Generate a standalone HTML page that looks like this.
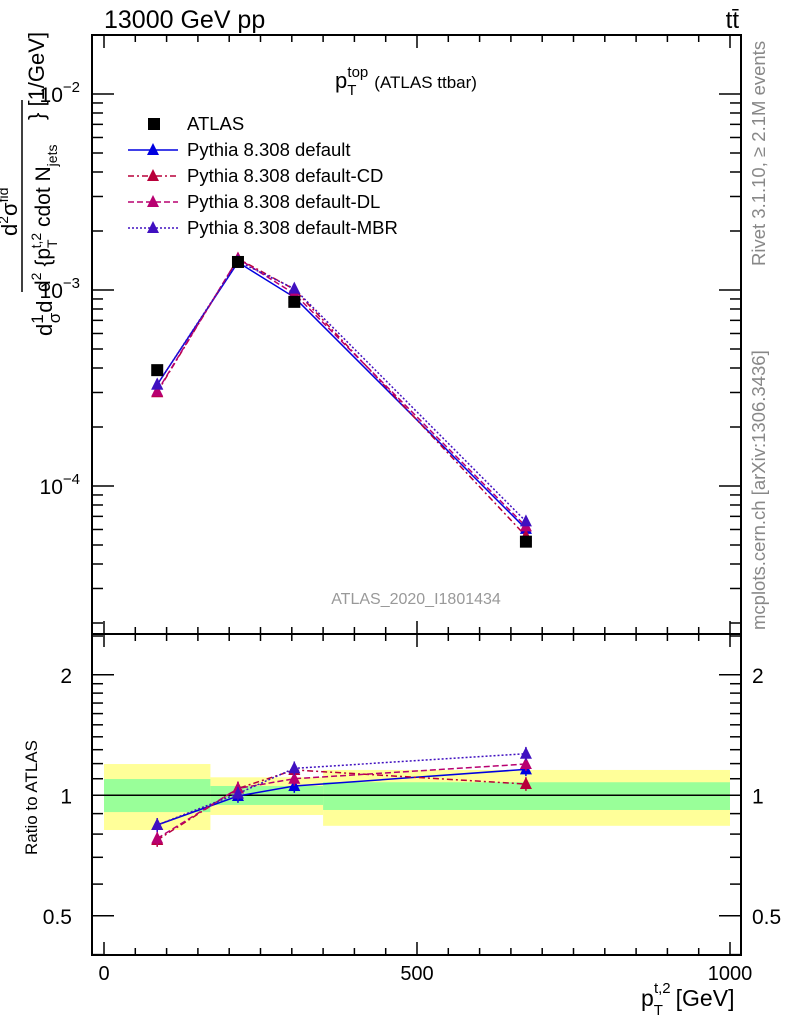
<!DOCTYPE html>
<html><head><meta charset="utf-8"><style>
body{margin:0;background:#fff}
svg{display:block;font-family:"Liberation Sans",sans-serif}
</style></head><body>
<svg id="c" width="786" height="1024" viewBox="0 0 786 1024" xmlns="http://www.w3.org/2000/svg">
<g id="bands"></g><g id="lines"></g><g id="axes"></g>
<text x="104" y="28" font-size="25">13000 GeV pp</text>
<text x="739" y="28" font-size="24" text-anchor="end">tt̄</text>
<text x="335" y="88" font-size="22">p<tspan font-size="15" dy="7">T</tspan><tspan font-size="15" dx="-9" dy="-18">top</tspan><tspan font-size="17" dy="11" dx="6">(ATLAS ttbar)</tspan></text>
<text x="416" y="604" font-size="16" fill="#999" text-anchor="middle">ATLAS_2020_I1801434</text>
<text transform="translate(765,266) rotate(-90)" font-size="18.5" fill="#888">Rivet 3.1.10, ≥ 2.1M events</text>
<text transform="translate(765,630) rotate(-90)" font-size="18.5" fill="#888">mcplots.cern.ch [arXiv:1306.3436]</text>
<g font-size="22">
<text transform="translate(52,336) rotate(-90)">d<tspan font-size="17" dy="-9">1</tspan><tspan font-size="17" dy="17" dx="-9">σ</tspan><tspan dy="-8">d</tspan></text>
<text transform="translate(17,236) rotate(-90)">d<tspan font-size="14" dy="-9">2</tspan><tspan dy="9">σ</tspan><tspan font-size="14" dy="-9">fid</tspan></text>
<line x1="22" y1="292" x2="22" y2="100" stroke="#000" stroke-width="1.5"/>
<text transform="translate(50,292) rotate(-90)" font-size="21">d<tspan font-size="14" dy="-9">2</tspan><tspan dy="9"> {p</tspan><tspan font-size="14" dy="7">T</tspan><tspan font-size="14" dy="-16" dx="-9">t,2</tspan><tspan dy="9"> cdot N</tspan><tspan font-size="14" dy="7">jets</tspan></text>
<text transform="translate(44,120) rotate(-90)">} [1/GeV]</text>
</g>
<text transform="translate(37,855) rotate(-90)" font-size="17">Ratio to ATLAS</text>
<text x="641" y="1006" font-size="23">p<tspan font-size="15" dy="9">T</tspan><tspan font-size="15" dx="-9" dy="-22">t,2</tspan><tspan dy="13" dx="5">[GeV]</tspan></text>
<g id="legend"></g>
</svg>
<script>
const xCenters=[85,214,304,674];
const atlas=[3.9e-4,1.39e-3,8.7e-4,5.2e-5];
const mcDefault=[3.29e-4,1.385e-3,9.18e-4,6.04e-5];
const mcCD=[3.01e-4,1.446e-3,1.007e-3,5.55e-5];
const mcDL=[3.04e-4,1.446e-3,9.57e-4,6.22e-5];
const mcMBR=[3.29e-4,1.40e-3,1.016e-3,6.6e-5];
const rDefault=[0.843,0.996,1.055,1.161];
const rCD=[0.773,1.04,1.157,1.067];
const rDL=[0.78,1.04,1.10,1.197];
const rMBR=[0.843,1.01,1.168,1.27];
const binEdges=[0,170,350,1000];
const yellowHi=[1.197,1.109,1.157];
const yellowLo=[0.819,0.893,0.839];
const greenHi=[1.098,1.055,1.078];
const greenLo=[0.908,0.946,0.919];
const xTicks=[0,500,1000];
const ratioTicks=[0.5,1,2];
const NS="http://www.w3.org/2000/svg";
const L=92,R=741,T=35,M=634,B=955;
const X=v=>104+v*0.626;
const Y=v=>94-(Math.log10(v)+2)*196;
const RY=v=>795.3-Math.log2(v)*120.5;
function mk(p,tag,attrs){const e=document.createElementNS(NS,tag);for(const k in attrs)e.setAttribute(k,attrs[k]);document.getElementById(p).appendChild(e);return e;}
for(let i=0;i<3;i++){
 let e=mk('bands','rect',{x:X(binEdges[i]),y:RY(yellowHi[i]),width:X(binEdges[i+1])-X(binEdges[i]),height:RY(yellowLo[i])-RY(yellowHi[i]),fill:'#ffff99'});
 
 
 let g=mk('bands','rect',{x:X(binEdges[i]),y:RY(greenHi[i]),width:X(binEdges[i+1])-X(binEdges[i]),height:RY(greenLo[i])-RY(greenHi[i]),fill:'#99ff99'});
 
 
}
let f1=mk('axes','rect',{x:L,y:T,width:R-L,height:M-T,fill:'none',stroke:'#000','stroke-width':2});


let f2=mk('axes','rect',{x:L,y:M,width:R-L,height:B-M,fill:'none',stroke:'#000','stroke-width':2});


let one=mk('lines','line',{x1:L,x2:R,y1:RY(1),y2:RY(1),stroke:'#000','stroke-width':1.5});


function tick(x1,y1,x2,y2){mk('axes','line',{x1,y1,x2,y2,stroke:'#000','stroke-width':1.5});}
for(let v=0;v<=1000;v+=50){const x=X(v),maj=v%500==0,l=maj?13:7;
 tick(x,T,x,T+l);tick(x,M,x,M-l);tick(x,M,x,M+l);tick(x,B,x,B-l);}
xTicks.forEach(v=>{let t=mk('axes','text',{x:X(v),y:980,'font-size':20,'text-anchor':'middle'});t.textContent=v;
 
 });
for(let d=-5;d<=-2;d++)for(let m=1;m<10;m++){const v=m*Math.pow(10,d),y=Y(v);if(y<T||y>M)continue;const l=m==1?22:11;tick(L,y,L+l,y);tick(R,y,R-l,y);}
[-2,-3,-4].forEach(d=>{let t=mk('axes','text',{x:80,y:Y(Math.pow(10,d))+8,'font-size':21,'text-anchor':'end'});t.innerHTML='10<tspan font-size="15" dy="-10">−'+(-d)+'</tspan>';
 
 });
[0.4,0.5,0.6,0.7,0.8,0.9,1,1.1,1.2,1.3,1.4,1.5,1.6,1.7,1.8,1.9,2,2.5].forEach(v=>{const y=RY(v);if(y<M||y>B)return;const l=(v==0.5||v==1||v==2)?22:11;tick(L,y,L+l,y);tick(R,y,R-l,y);});
ratioTicks.forEach(v=>{[[72,'end'],[752,'start']].forEach(([x,a])=>{let t=mk('axes','text',{x,y:RY(v)+8,'font-size':21,'text-anchor':a});t.textContent=v;
 
 });});
const series=[
 {n:'default',main:mcDefault,r:rDefault,c:'#0000e0',d:''},
 {n:'default-cd',main:mcCD,r:rCD,c:'#b8003a',d:'6,3,2,3'},
 {n:'default-dl',main:mcDL,r:rDL,c:'#b80070',d:'6,3'},
 {n:'default-mbr',main:mcMBR,r:rMBR,c:'#4010c0',d:'2,2'}];
function tri(x,y,c,name){let p=mk('lines','polygon',{points:`${x},${y-7} ${x-6},${y+5} ${x+6},${y+5}`,fill:c});
 
 }
series.forEach(s=>{
 let pl=mk('lines','polyline',{points:xCenters.map((x,i)=>X(x)+','+Y(s.main[i])).join(' '),fill:'none',stroke:s.c,'stroke-width':1.5,'stroke-dasharray':s.d});
 
 
 let rl=mk('lines','polyline',{points:xCenters.map((x,i)=>X(x)+','+RY(s.r[i])).join(' '),fill:'none',stroke:s.c,'stroke-width':1.5,'stroke-dasharray':s.d});
 
 
 xCenters.forEach((x,i)=>{tri(X(x),Y(s.main[i]),s.c,'marker-'+s.n);
  mk('lines','line',{x1:X(x),x2:X(x),y1:RY(s.r[i]*1.04),y2:RY(s.r[i]/1.04),stroke:s.c,'stroke-width':1.5});
  tri(X(x),RY(s.r[i]),s.c,'ratio-marker-'+s.n);});
});
xCenters.forEach((x,i)=>{let r=mk('lines','rect',{x:X(x)-6,y:Y(atlas[i])-6,width:12,height:12,fill:'#000'});
 
 });
const labels=['ATLAS','Pythia 8.308 default','Pythia 8.308 default-CD','Pythia 8.308 default-DL','Pythia 8.308 default-MBR'];
labels.forEach((lab,i)=>{const y=124+i*26;
 if(i==0){mk('legend','rect',{x:148,y:y-6,width:12,height:12,fill:'#000'});}
 else{const s=series[i-1];mk('legend','line',{x1:128,x2:178,y1:y,y2:y,stroke:s.c,'stroke-width':1.5,'stroke-dasharray':s.d});
  mk('legend','polygon',{points:`153,${y-7} 147,${y+5} 159,${y+5}`,fill:s.c});}
 let t=mk('legend','text',{x:187,y:y+6,'font-size':18.5});t.textContent=lab;
 
 });
</script>
</body></html>
